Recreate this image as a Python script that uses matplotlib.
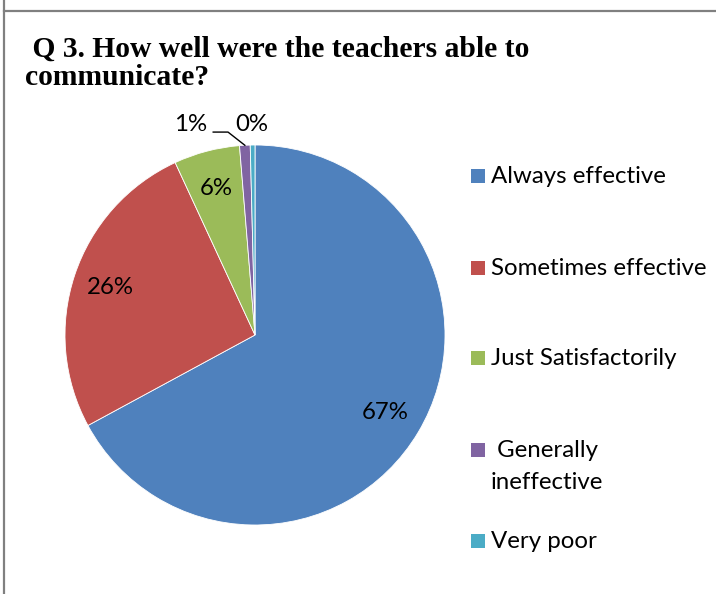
import numpy as np
import matplotlib as mpl
import matplotlib.pyplot as plt
from matplotlib.patches import Rectangle
from matplotlib.lines import Line2D

# ---------------------------------------------------------------- data
categories = ["Always effective", "Sometimes effective", "Just Satisfactorily",
              " Generally\nineffective", "Very poor"]
shares = [67.1, 26.0, 5.6, 0.9, 0.4]
colors = ["#4F81BD", "#C0504D", "#9BBB59", "#8064A2", "#4BACC6"]
title_lines = [" Q 3. How well were the teachers able to", "communicate?"]

W, H = 716, 594
LABEL_FONT = ["Lato", "DejaVu Sans"]
FS = 17.3

fig = plt.figure(figsize=(W / 100, H / 100), dpi=100)

# pie axes: centre (255, 335) px, radius 190 px
cx, cy, r = 255, 335, 190
ax = fig.add_axes([(cx - r) / W, 1 - (cy + r) / H, 2 * r / W, 2 * r / H])
wedges, _ = ax.pie(shares, colors=colors, startangle=90, counterclock=False,
                   radius=1.0, wedgeprops=dict(edgecolor="white", linewidth=0.6))
ax.set_xlim(-1, 1)
ax.set_ylim(-1, 1)
ax.set_aspect("equal")
ax.axis("off")

# percentage labels
for i, (w, v) in enumerate(zip(wedges, shares)):
    mid = np.deg2rad((w.theta1 + w.theta2) / 2)
    txt = f"{round(v)}%"
    if v >= 3:
        ax.text(0.8 * np.cos(mid), 0.8 * np.sin(mid), txt, fontsize=FS,
                family=LABEL_FONT, ha="center", va="center")
    elif i == 3:
        # outside label with leader line
        lx, ly = -0.34, 1.11
        ax.text(lx, ly, txt, fontsize=FS, family=LABEL_FONT,
                ha="center", va="center", clip_on=False)
        ex, ey = np.cos(mid), np.sin(mid)
        ax.add_line(Line2D([-0.22, -0.142, ex], [1.068, 1.068, ey],
                           color="black", lw=1.0, clip_on=False))
    else:
        ax.text(-0.015, 1.11, txt, fontsize=FS, family=LABEL_FONT,
                ha="center", va="center", clip_on=False)

# legend (drawn manually to match the office-style layout)
leg_y = [176, 268, 358, 450, 541]
for lab, col, y in zip(categories, colors, leg_y):
    fig.add_artist(Rectangle((471 / W, 1 - (y + 7) / H), 14 / W, 14 / H,
                             transform=fig.transFigure, facecolor=col,
                             edgecolor="none"))
    for j, line in enumerate(lab.split("\n")):
        fig.text(491 / W, 1 - (y + 7 + 32 * j) / H, line, fontsize=FS,
                 family=LABEL_FONT, ha="left", va="baseline")

# title
for j, line in enumerate(title_lines):
    fig.text(25 / W, 1 - (57 + 28 * j) / H, line, fontsize=21.3,
             fontweight="bold", family="Liberation Serif",
             ha="left", va="baseline")

# frame lines of the surrounding table cell
fig.add_artist(Line2D([4 / W, 4 / W], [0, 1], color="#808080", lw=1.6,
                      transform=fig.transFigure))
fig.add_artist(Line2D([4 / W, 1], [1 - 11 / H, 1 - 11 / H], color="#808080",
                      lw=1.6, transform=fig.transFigure))

fig.savefig("out.png", dpi=100)
